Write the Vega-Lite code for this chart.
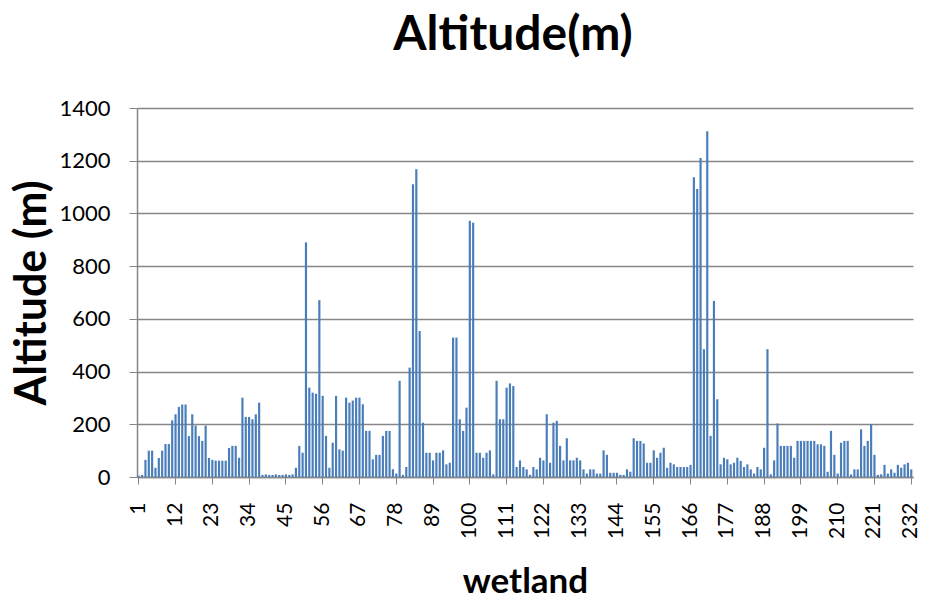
{
  "$schema": "https://vega.github.io/schema/vega-lite/v6.json",
  "width": 776,
  "height": 369,
  "autosize": "none",
  "padding": {"left": 137, "top": 108, "right": 13, "bottom": 126},
  "background": "white",
  "title": {"text": "Altitude(m)", "font": "Lato", "fontSize": 48, "fontWeight": "bold", "color": "#000000", "offset": 37, "dx": -12},
  "data": {"values": [
{"w":1,"a":5},{"w":2,"a":8},{"w":3,"a":65},{"w":4,"a":100},{"w":5,"a":100},{"w":6,"a":35},{"w":7,"a":72},{"w":8,"a":100},{"w":9,"a":125},{"w":10,"a":125},
{"w":11,"a":215},{"w":12,"a":238},{"w":13,"a":266},{"w":14,"a":275},{"w":15,"a":275},{"w":16,"a":155},{"w":17,"a":238},{"w":18,"a":195},{"w":19,"a":155},{"w":20,"a":137},
{"w":21,"a":195},{"w":22,"a":72},{"w":23,"a":65},{"w":24,"a":62},{"w":25,"a":62},{"w":26,"a":62},{"w":27,"a":62},{"w":28,"a":110},{"w":29,"a":118},{"w":30,"a":118},
{"w":31,"a":73},{"w":32,"a":301},{"w":33,"a":228},{"w":34,"a":228},{"w":35,"a":219},{"w":36,"a":238},{"w":37,"a":282},{"w":38,"a":8},{"w":39,"a":10},{"w":40,"a":8},
{"w":41,"a":8},{"w":42,"a":10},{"w":43,"a":8},{"w":44,"a":8},{"w":45,"a":10},{"w":46,"a":8},{"w":47,"a":10},{"w":48,"a":35},{"w":49,"a":118},{"w":50,"a":92},
{"w":51,"a":890},{"w":52,"a":339},{"w":53,"a":320},{"w":54,"a":316},{"w":55,"a":671},{"w":56,"a":308},{"w":57,"a":156},{"w":58,"a":35},{"w":59,"a":130},{"w":60,"a":308},
{"w":61,"a":105},{"w":62,"a":100},{"w":63,"a":301},{"w":64,"a":282},{"w":65,"a":290},{"w":66,"a":301},{"w":67,"a":301},{"w":68,"a":276},{"w":69,"a":175},{"w":70,"a":175},
{"w":71,"a":67},{"w":72,"a":84},{"w":73,"a":84},{"w":74,"a":156},{"w":75,"a":175},{"w":76,"a":175},{"w":77,"a":29},{"w":78,"a":13},{"w":79,"a":365},{"w":80,"a":8},
{"w":81,"a":38},{"w":82,"a":415},{"w":83,"a":1111},{"w":84,"a":1168},{"w":85,"a":554},{"w":86,"a":206},{"w":87,"a":92},{"w":88,"a":92},{"w":89,"a":63},{"w":90,"a":92},
{"w":91,"a":92},{"w":92,"a":101},{"w":93,"a":48},{"w":94,"a":54},{"w":95,"a":529},{"w":96,"a":529},{"w":97,"a":219},{"w":98,"a":175},{"w":99,"a":263},{"w":100,"a":972},
{"w":101,"a":965},{"w":102,"a":92},{"w":103,"a":92},{"w":104,"a":73},{"w":105,"a":92},{"w":106,"a":101},{"w":107,"a":10},{"w":108,"a":365},{"w":109,"a":219},{"w":110,"a":219},
{"w":111,"a":339},{"w":112,"a":355},{"w":113,"a":345},{"w":114,"a":38},{"w":115,"a":63},{"w":116,"a":38},{"w":117,"a":29},{"w":118,"a":8},{"w":119,"a":38},{"w":120,"a":29},
{"w":121,"a":73},{"w":122,"a":63},{"w":123,"a":238},{"w":124,"a":54},{"w":125,"a":206},{"w":126,"a":213},{"w":127,"a":118},{"w":128,"a":63},{"w":129,"a":147},{"w":130,"a":63},
{"w":131,"a":63},{"w":132,"a":73},{"w":133,"a":63},{"w":134,"a":29},{"w":135,"a":13},{"w":136,"a":29},{"w":137,"a":29},{"w":138,"a":13},{"w":139,"a":13},{"w":140,"a":101},
{"w":141,"a":84},{"w":142,"a":16},{"w":143,"a":16},{"w":144,"a":16},{"w":145,"a":8},{"w":146,"a":8},{"w":147,"a":29},{"w":148,"a":20},{"w":149,"a":147},{"w":150,"a":137},
{"w":151,"a":137},{"w":152,"a":127},{"w":153,"a":54},{"w":154,"a":54},{"w":155,"a":101},{"w":156,"a":73},{"w":157,"a":92},{"w":158,"a":111},{"w":159,"a":35},{"w":160,"a":54},
{"w":161,"a":48},{"w":162,"a":38},{"w":163,"a":38},{"w":164,"a":38},{"w":165,"a":38},{"w":166,"a":46},{"w":167,"a":1137},{"w":168,"a":1093},{"w":169,"a":1210},{"w":170,"a":485},
{"w":171,"a":1312},{"w":172,"a":156},{"w":173,"a":668},{"w":174,"a":295},{"w":175,"a":48},{"w":176,"a":73},{"w":177,"a":67},{"w":178,"a":48},{"w":179,"a":54},{"w":180,"a":73},
{"w":181,"a":61},{"w":182,"a":38},{"w":183,"a":48},{"w":184,"a":29},{"w":185,"a":13},{"w":186,"a":38},{"w":187,"a":29},{"w":188,"a":111},{"w":189,"a":485},{"w":190,"a":10},
{"w":191,"a":63},{"w":192,"a":203},{"w":193,"a":118},{"w":194,"a":118},{"w":195,"a":118},{"w":196,"a":118},{"w":197,"a":73},{"w":198,"a":137},{"w":199,"a":137},{"w":200,"a":137},
{"w":201,"a":137},{"w":202,"a":137},{"w":203,"a":137},{"w":204,"a":124},{"w":205,"a":124},{"w":206,"a":118},{"w":207,"a":20},{"w":208,"a":175},{"w":209,"a":84},{"w":210,"a":13},
{"w":211,"a":130},{"w":212,"a":137},{"w":213,"a":137},{"w":214,"a":10},{"w":215,"a":29},{"w":216,"a":29},{"w":217,"a":181},{"w":218,"a":118},{"w":219,"a":137},{"w":220,"a":200},
{"w":221,"a":84},{"w":222,"a":8},{"w":223,"a":10},{"w":224,"a":46},{"w":225,"a":13},{"w":226,"a":29},{"w":227,"a":16},{"w":228,"a":46},{"w":229,"a":35},{"w":230,"a":48},
{"w":231,"a":54},{"w":232,"a":29}
  ]},
  "mark": {"type": "bar", "color": "#4A7EBB"},
  "encoding": {
    "x": {
      "field": "w", "type": "ordinal",
      "scale": {"paddingInner": 0.35, "paddingOuter": 0.2},
      "axis": {
        "title": "wetland", "titleFont": "Lato", "titleFontSize": 35, "titleFontWeight": "bold", "titleColor": "#000000", "titlePadding": 26,
        "values": [1,12,23,34,45,56,67,78,89,100,111,122,133,144,155,166,177,188,199,210,221,232],
        "labelAngle": 270, "labelFont": "Lato", "labelFontSize": 21, "labelColor": "#000000", "labelPadding": 18,
        "domainColor": "#868686", "domainWidth": 1.5, "tickColor": "#868686", "tickSize": 7, "grid": false
      }
    },
    "y": {
      "field": "a", "type": "quantitative",
      "scale": {"domain": [0, 1400], "nice": false},
      "axis": {
        "title": "Altitude (m)", "titleFont": "Lato", "titleFontSize": 43, "titleFontWeight": "bold", "titleColor": "#000000", "titlePadding": 4,
        "values": [0,200,400,600,800,1000,1200,1400], "format": "d",
        "labelFont": "Lato", "labelFontSize": 22, "labelColor": "#000000", "labelPadding": 19,
        "grid": true, "gridColor": "#868686", "gridWidth": 1.5,
        "domainColor": "#868686", "domainWidth": 1.5, "tickColor": "#868686", "tickSize": 8
      }
    }
  },
  "config": {"view": {"stroke": null}}
}
